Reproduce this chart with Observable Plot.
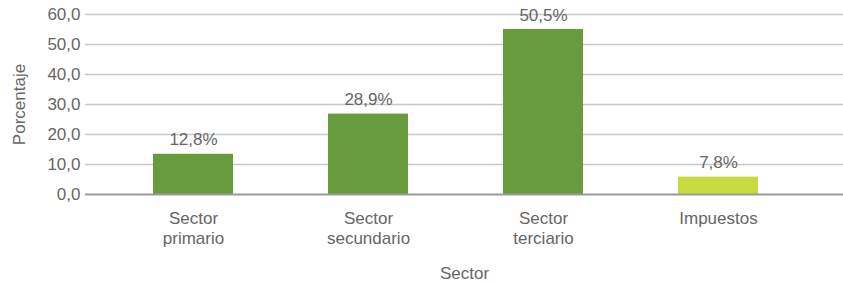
<!DOCTYPE html>
<html>
<head>
<meta charset="utf-8">
<script src="https://cdn.jsdelivr.net/npm/d3@7"></script>
<script src="https://cdn.jsdelivr.net/npm/@observablehq/plot@0.6"></script>
<style>
  html, body { margin: 0; padding: 0; background: #fff; }
  svg { font-family: "Liberation Sans", Arial, sans-serif; }
</style>
</head>
<body>
<div id="chart"></div>
<script>
const categories = ["Sector primario", "Sector secundario", "Sector terciario", "Impuestos"];
const tickLabels = ["Sector\nprimario", "Sector\nsecundario", "Sector\nterciario", "Impuestos"];
const values = [13.4, 26.8, 55.0, 5.8];
const valueLabels = ["12,8%", "28,9%", "50,5%", "7,8%"];
const colors = ["#689a3e", "#689a3e", "#689a3e", "#c8db3e"];
const yTicks = [0, 10, 20, 30, 40, 50, 60];

const data = categories.map((c, i) => ({cat: c, v: values[i], label: valueLabels[i], color: colors[i]}));
const textColor = "#666666";

const chart = Plot.plot({
  width: 843,
  height: 283,
  marginLeft: 85,
  marginRight: 0,
  marginTop: 14,
  marginBottom: 89,
  style: {fontSize: "17px", color: textColor, fontFamily: "'Liberation Sans', Arial, sans-serif"},
  x: {domain: categories, paddingInner: 0.545, paddingOuter: 0.426, align: 0.445},
  y: {domain: [0, 60]},
  marks: [
    Plot.ruleY(yTicks.filter(d => d > 0), {stroke: "#c6c6c6", strokeWidth: 1.3}),
    Plot.barY(data, {x: "cat", y: "v", fill: "color"}),
    Plot.ruleY([0], {stroke: "#9a9a9a", strokeWidth: 2}),
    Plot.text(data, {x: "cat", y: "v", text: "label", dy: -9, lineAnchor: "bottom", fill: textColor, fontSize: 17}),
    Plot.axisY({ticks: yTicks, tickSize: 0, tickPadding: 5, tickFormat: d => d.toFixed(1).replace(".", ","),
      label: "Porcentaje", labelAnchor: "center", labelArrow: "none", labelOffset: 73, fontSize: 17, fill: textColor}),
    Plot.axisX({tickSize: 0, tickPadding: 15, tickFormat: d => tickLabels[categories.indexOf(d)], lineHeight: 1.18,
      label: "Sector", labelAnchor: "center", labelArrow: "none", labelOffset: 84, fontSize: 17, fill: textColor})
  ]
});
document.getElementById("chart").appendChild(chart);
</script>
</body>
</html>
